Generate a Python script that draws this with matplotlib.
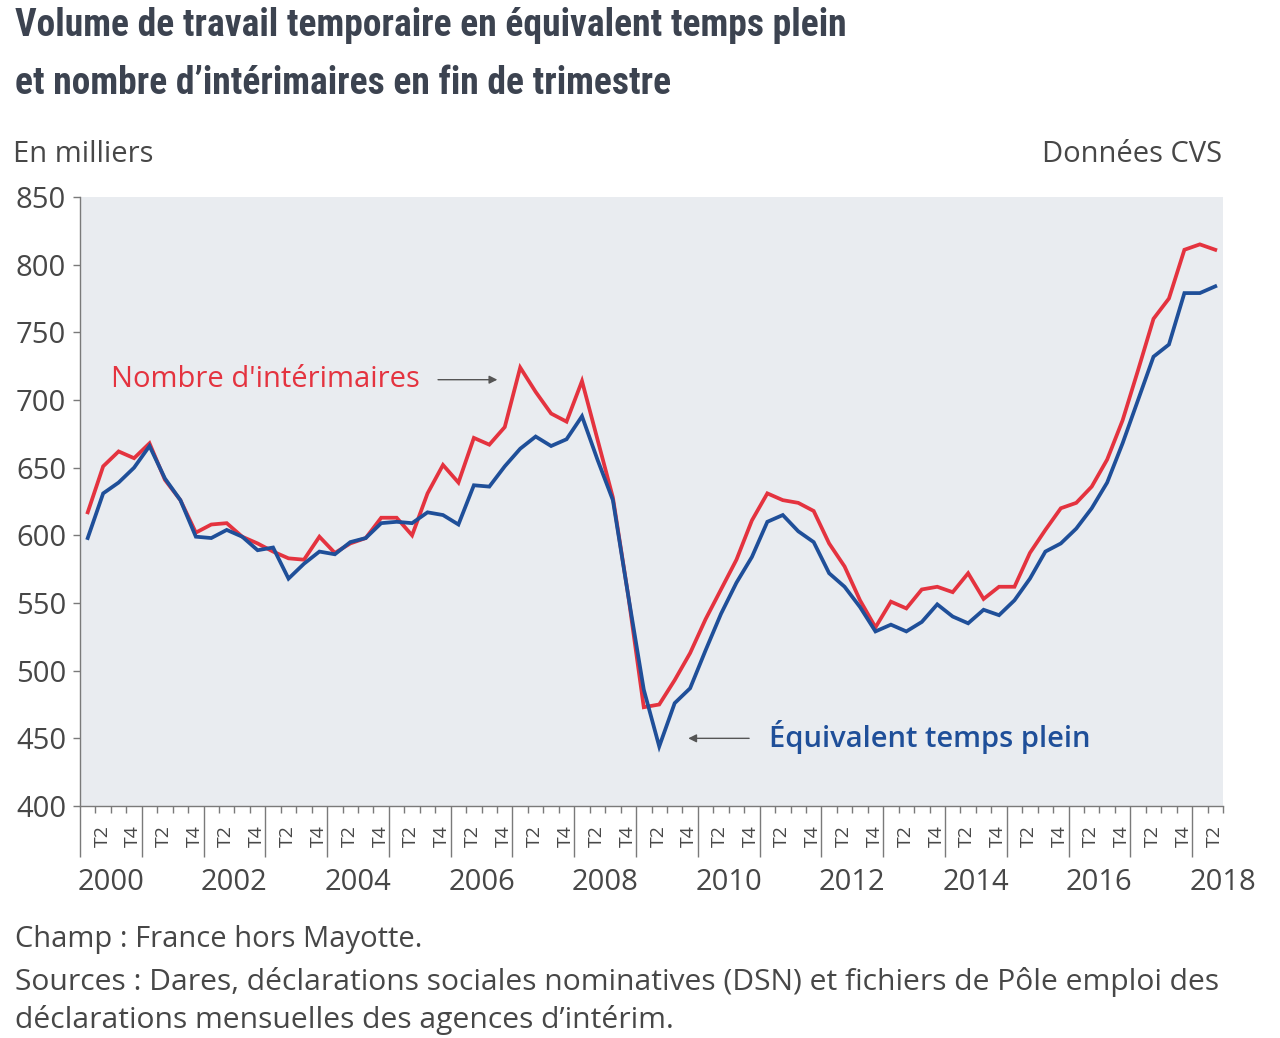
import numpy as np
import matplotlib.pyplot as plt
from matplotlib.transforms import blended_transform_factory

# quarterly values, 2000 T1 .. 2018 T2 (thousands)
years = list(range(2000, 2019))
interimaires = [617, 651, 662, 657, 668, 641, 626, 602, 608, 609,
                599, 594, 588, 583, 582, 599, 587, 594, 598, 613,
                613, 600, 631, 652, 639, 672, 667, 680, 724, 706,
                690, 684, 714, 671, 628, 555, 473, 475, 493, 513,
                538, 560, 582, 611, 631, 626, 624, 618, 594, 577,
                552, 532, 551, 546, 560, 562, 558, 572, 553, 562,
                562, 587, 604, 620, 624, 636, 656, 685, 722, 760,
                775, 811, 815, 811]
etp = [598, 631, 639, 650, 666, 642, 626, 599, 598, 604,
       599, 589, 591, 568, 579, 588, 586, 595, 598, 609,
       610, 609, 617, 615, 608, 637, 636, 651, 664, 673,
       666, 671, 688, 656, 626, 555, 486, 444, 476, 487,
       515, 542, 565, 584, 610, 615, 603, 595, 572, 562,
       547, 529, 534, 529, 536, 549, 540, 535, 545, 541,
       552, 568, 588, 594, 605, 620, 639, 668, 700, 732,
       741, 779, 779, 784]

red = '#e4333f'
blue = '#1f4f99'
grey = '#7a7a7a'
txt = '#474747'
fs = 21

plt.rcParams['font.family'] = ['Open Sans', 'DejaVu Sans']

fig = plt.figure(figsize=(12.8, 10.38), dpi=100)
ax = fig.add_axes([80 / 1280, 1 - 806 / 1038, 1143 / 1280, 609 / 1038])
ax.set_facecolor('#e9ecf0')

x = np.arange(len(etp)) + 0.5
ax.plot(x, interimaires, color=red, lw=2.7, solid_joinstyle='miter')
ax.plot(x, etp, color=blue, lw=2.7, solid_joinstyle='miter')

ax.set_xlim(0, len(etp))
ax.set_ylim(400, 850)
ax.set_yticks(range(400, 851, 50))
ax.tick_params(axis='y', length=5, width=1, color=grey, labelsize=fs,
               labelcolor=txt, pad=5)

for s in ['top', 'right']:
    ax.spines[s].set_visible(False)
for s in ['left', 'bottom']:
    ax.spines[s].set_color(grey)
    ax.spines[s].set_linewidth(1)

# quarter ticks: long at year boundaries, short elsewhere
ax.set_xticks(range(0, len(etp), 4))
ax.set_xticks([i for i in range(len(etp) + 1) if i % 4], minor=True)
ax.tick_params(axis='x', which='major', length=37, width=1, color=grey,
               labelbottom=False)
ax.tick_params(axis='x', which='minor', length=5, width=1, color=grey)

tr = blended_transform_factory(ax.transData, ax.transAxes)
for i in range(len(etp)):
    q = i % 4 + 1
    if q in (2, 4):
        ax.text(i + 0.45, -0.05, 'T%d' % q, transform=tr, rotation=90,
                ha='center', va='center', fontsize=14, color=txt)
for k, yr in enumerate(years):
    if yr % 2 == 0:
        ax.text(4 * k + 2, -0.126, str(yr), transform=tr, ha='center',
                va='center', fontsize=fs, color=txt)

# series labels
ax.text(2.0, 715, "Nombre d'intérimaires", color=red, fontsize=fs,
        va='center', ha='left')
ax.annotate('', xy=(27.2, 715), xytext=(23.0, 715),
            arrowprops=dict(arrowstyle='-|>', color='#555555', lw=1,
                            mutation_scale=12))
ax.text(44.6, 451, 'Équivalent temps plein', color=blue, fontsize=fs,
        va='center', ha='left', fontweight='semibold')
ax.annotate('', xy=(39.2, 450), xytext=(43.5, 450),
            arrowprops=dict(arrowstyle='-|>', color='#555555', lw=1,
                            mutation_scale=12))

# titles and notes
tfont = ['Roboto Condensed', 'Roboto', 'DejaVu Sans']
fig.text(15 / 1280, 1 - 25 / 1038, 'Volume de travail temporaire en équivalent temps plein',
         family=tfont, fontweight='bold', fontstretch='condensed', fontsize=27,
         color='#3c4350', va='center', ha='left')
fig.text(15 / 1280, 1 - 83 / 1038, "et nombre d’intérimaires en fin de trimestre",
         family=tfont, fontweight='bold', fontstretch='condensed', fontsize=27,
         color='#3c4350', va='center', ha='left')
fig.text(13 / 1280, 1 - 154 / 1038, 'En milliers', fontsize=fs, color=txt,
         va='center', ha='left')
fig.text(1222 / 1280, 1 - 154 / 1038, 'Données CVS', fontsize=fs, color=txt,
         va='center', ha='right')
fig.text(15 / 1280, 1 - 940 / 1038, 'Champ : France hors Mayotte.',
         fontsize=fs, color=txt, va='center', ha='left')
fig.text(15 / 1280, 1 - 982 / 1038,
         'Sources : Dares, déclarations sociales nominatives (DSN) et fichiers de Pôle emploi des',
         fontsize=21.6, color=txt, va='center', ha='left')
fig.text(15 / 1280, 1 - 1020 / 1038,
         "déclarations mensuelles des agences d’intérim.",
         fontsize=21.6, color=txt, va='center', ha='left')

fig.savefig('out.png', dpi=100)
